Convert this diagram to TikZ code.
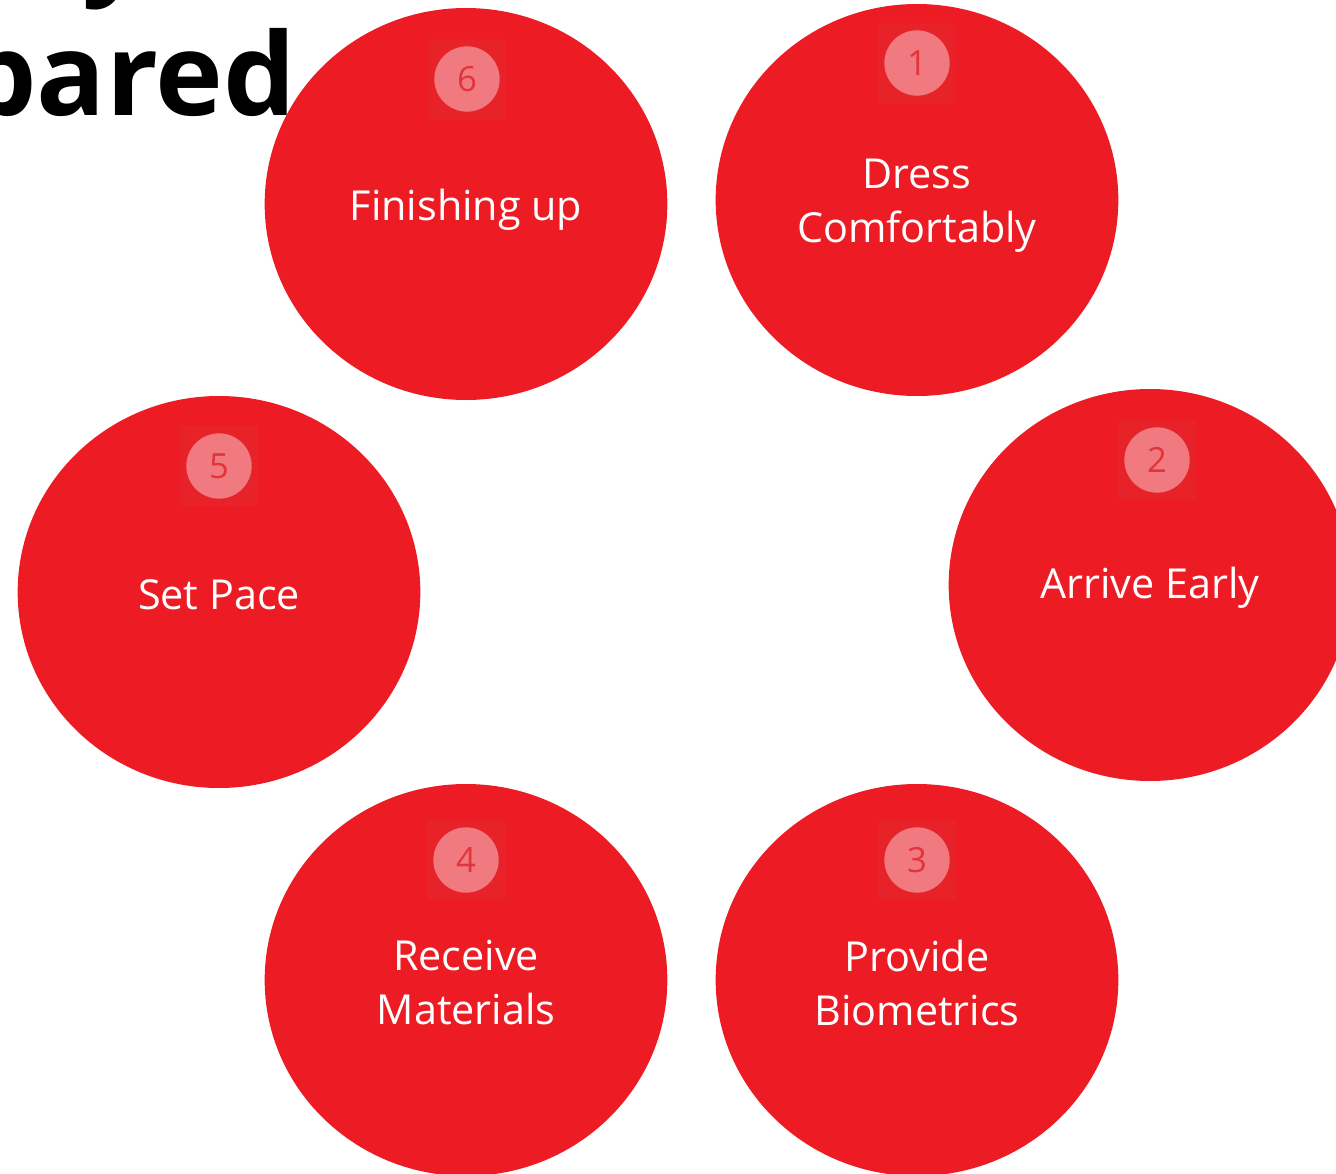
\documentclass[tikz,border=0pt]{standalone}
\usepackage{fontspec}
\setmainfont{Open Sans}
\usetikzlibrary{shapes.geometric, positioning}
\definecolor{stepred}{RGB}{237,28,36}
\definecolor{boxred}{RGB}{232,34,41}
\definecolor{dotpink}{RGB}{241,122,128}
\definecolor{digitred}{RGB}{226,52,58}

\begin{document}
\begin{tikzpicture}[
  x=0.75pt, y=-0.75pt,
  every node/.style={align=center},
  stepcircle/.style={ellipse, fill=stepred, inner sep=0pt,
                     minimum width=302pt, minimum height=294pt},
  steptext/.style  ={text=white, inner sep=0pt,
                     font=\fontsize{31}{40.5}\selectfont},
  badgebox/.style  ={rectangle, fill=boxred, minimum width=58pt, minimum height=60pt},
  badgedot/.style  ={circle, fill=dotpink, text=digitred, inner sep=0pt,
                     minimum size=49pt, font=\fontsize{26}{30}\selectfont},
  title/.style     ={anchor=base west, inner sep=0pt,
                     font=\fontsize{86}{100}\selectfont\bfseries},
]
\useasboundingbox (0,0) rectangle (1336,1174);
\clip (0,0) rectangle (1336,1174);

% Steps round the ring
\node[stepcircle] (s1) at (917,200) {};
\node[stepcircle] (s2) at (1150,585) {};
\node[stepcircle] (s3) at (917,980) {};
\node[stepcircle] (s4) at (466,980) {};
\node[stepcircle] (s5) at (219,592) {};
\node[stepcircle] (s6) at (466,204) {};

% Step texts
\node[steptext] (t1) at ([yshift=-4pt]s1.center) {Dress\\Comfortably};
\node[steptext] (t2) at ([yshift=-2pt]s2.center) {Arrive Early};
\node[steptext] (t3) at ([yshift=-2pt]s3.center) {Provide\\Biometrics};
\node[steptext] (t4) at ([yshift=-2pt]s4.center) {Receive\\Materials};
\node[steptext] (t5) at ([yshift=-2pt]s5.center) {Set Pace};
\node[steptext] (t6) at ([yshift=-4pt]s6.center) {Finishing up};

% Number badges
\foreach \n/\bx/\by in {1/917/63, 2/1157/460, 3/917/860, 4/466/860, 5/219/466, 6/467/79} {
  \node[badgebox] (box\n) at (\bx,\by) {};
  \node[badgedot] (num\n) at (box\n.center) {\n};
}

% Title fragment
\node[title] (ttl) at (-36,115) {pared};
\node[title] (ttlup) at (82,-17) {y};

\end{tikzpicture}
\end{document}
